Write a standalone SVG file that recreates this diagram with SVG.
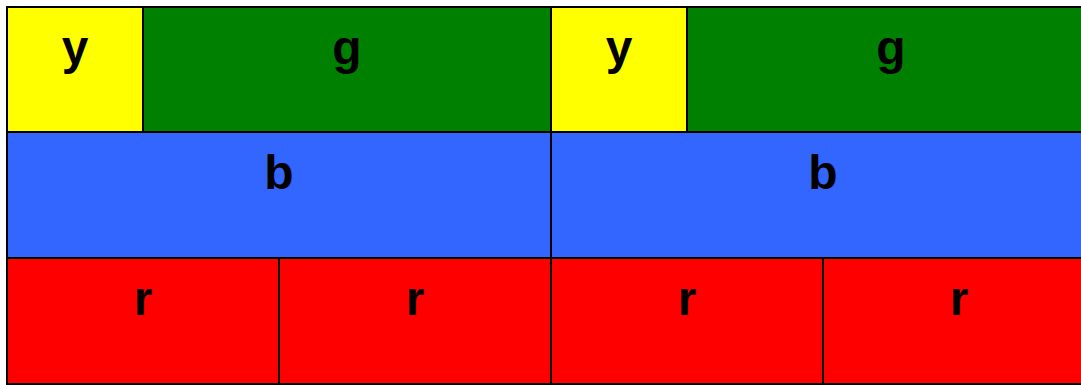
<svg xmlns="http://www.w3.org/2000/svg" width="1081" height="385" viewBox="0 0 1081 385">
<style>
.c{stroke:#000;stroke-width:2}
.t{font-family:"Liberation Sans",Arial,sans-serif;font-weight:bold;font-size:48px;text-anchor:middle;fill:#000}
.y{fill:#ffff00}.g{fill:#008000}.b{fill:#3366ff}.r{fill:#ff0000}
</style>
<rect width="1081" height="385" fill="#fff"/>
<g id="y1"><rect class="c y" x="7" y="7" width="136" height="125"/><text class="t" x="75" y="64">y</text></g>
<g id="g1"><rect class="c g" x="143" y="7" width="408" height="125"/><text class="t" x="347" y="64">g</text></g>
<g id="y2"><rect class="c y" x="551" y="7" width="136" height="125"/><text class="t" x="619" y="64">y</text></g>
<g id="g2"><rect class="c g" x="687" y="7" width="408" height="125"/><text class="t" x="891" y="64">g</text></g>
<g id="b1"><rect class="c b" x="7" y="132" width="544" height="126"/><text class="t" x="279" y="189">b</text></g>
<g id="b2"><rect class="c b" x="551" y="132" width="544" height="126"/><text class="t" x="823" y="189">b</text></g>
<g id="r1"><rect class="c r" x="7" y="258" width="272" height="126"/><text class="t" x="143" y="315">r</text></g>
<g id="r2"><rect class="c r" x="279" y="258" width="272" height="126"/><text class="t" x="415" y="315">r</text></g>
<g id="r3"><rect class="c r" x="551" y="258" width="272" height="126"/><text class="t" x="687" y="315">r</text></g>
<g id="r4"><rect class="c r" x="823" y="258" width="272" height="126"/><text class="t" x="959" y="315">r</text></g>
<g id="connectors"></g>
</svg>
